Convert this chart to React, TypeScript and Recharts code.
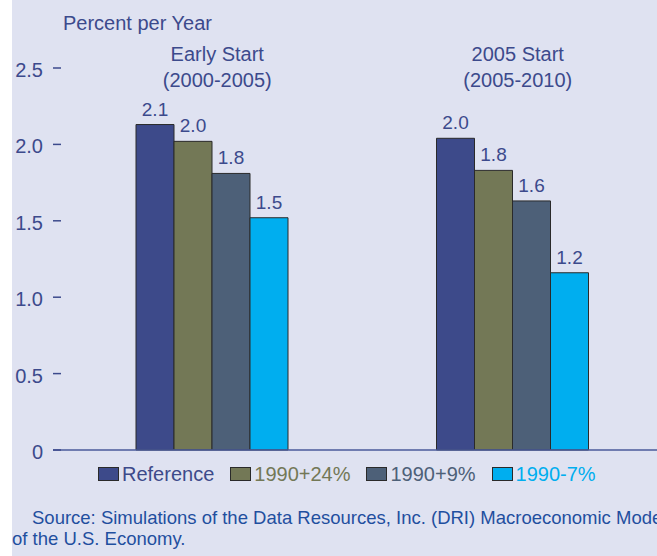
import React from 'react';
import { BarChart, Bar, XAxis, YAxis, Legend, LabelList } from 'recharts';

const groupTitles = ['Early Start', '2005 Start'];
const groupPeriods = ['(2000-2005)', '(2005-2010)'];
const reference = [2.13, 2.04];
const plus24 = [2.02, 1.83];
const plus9 = [1.81, 1.63];
const minus7 = [1.52, 1.16];
const yTicks = [0, 0.5, 1.0, 1.5, 2.0, 2.5];

const seriesList = [
  { key: 'reference', name: 'Reference', fill: '#3d4a8a', text: '#3d4a8a' },
  { key: 'plus24', name: '1990+24%', fill: '#737856', text: '#737856' },
  { key: 'plus9', name: '1990+9%', fill: '#4d6078', text: '#4d6078' },
  { key: 'minus7', name: '1990-7%', fill: '#00aeef', text: '#00aeef' },
];

const data = groupTitles.map((title, i) => ({
  group: title,
  period: groupPeriods[i],
  reference: reference[i],
  plus24: plus24[i],
  plus9: plus9[i],
  minus7: minus7[i],
}));

const FONT = '"Liberation Sans", Arial, sans-serif';
const INK = '#3c4a8c';

const YTick = (props: any) => {
  const { x, y, payload } = props;
  const v = payload.value as number;
  return (
    <g>
      <line x1={x} x2={x + 8} y1={y} y2={y} stroke={INK} strokeWidth={1.5} />
      <text x={x - 10} y={y} dy={9} textAnchor="end" fill={INK} fontSize={20} fontFamily={FONT}>
        {v === 0 ? '0' : v.toFixed(1)}
      </text>
    </g>
  );
};

const GroupTick = (props: any) => {
  const { x, y, index } = props;
  return (
    <g>
      <text x={x + 5} y={y - 7.5} textAnchor="middle" fill={INK} fontSize={20} fontFamily={FONT}>
        {groupTitles[index]}
      </text>
      <text x={x + 5} y={y + 19} textAnchor="middle" fill={INK} fontSize={20} fontFamily={FONT}>
        {groupPeriods[index]}
      </text>
    </g>
  );
};

const LegendContent = () => (
  <div style={{ display: 'flex', alignItems: 'center', height: 26, fontFamily: FONT, fontSize: 20, lineHeight: '20px' }}>
    {seriesList.map((s) => (
      <div key={s.key} style={{ display: 'flex', alignItems: 'center', marginRight: 16, whiteSpace: 'nowrap' }}>
        <span style={{ display: 'inline-block', width: 19, height: 12, background: s.fill, border: '1px solid #2a2a2a', marginRight: 3 }} />
        <span style={{ color: s.text }}>{s.name}</span>
      </div>
    ))}
  </div>
);

export default function App() {
  return (
    <div style={{ position: 'absolute', left: 0, top: 0, width: 657, height: 556, overflow: 'hidden', background: '#ffffff' }}>
      <div style={{ position: 'absolute', left: 12, top: 0, width: 645, height: 556, background: '#dfe2f1' }} />
      <div style={{ position: 'absolute', left: 0, top: 0 }}>
        <BarChart
          width={663}
          height={556}
          data={data}
          margin={{ top: 0, right: 0, bottom: 69, left: 0 }}
          barCategoryGap={74}
          barGap={0}
        >
          <XAxis
            xAxisId="top"
            orientation="top"
            dataKey="group"
            height={68}
            axisLine={false}
            tickLine={false}
            tickSize={0}
            tickMargin={0}
            interval={0}
            padding={{ left: 9, right: 0 }}
            tick={<GroupTick />}
          />
          <XAxis
            dataKey="group"
            height={11}
            tick={false}
            tickLine={false}
            axisLine={{ stroke: '#4a5a9a', strokeWidth: 1.5 }}
            padding={{ left: 9, right: 0 }}
          />
          <YAxis
            width={53}
            domain={[0, 2.5]}
            ticks={yTicks}
            axisLine={false}
            tickLine={false}
            tickSize={0}
            tickMargin={0}
            interval={0}
            tick={<YTick />}
          />
          <Legend
            verticalAlign="bottom"
            content={<LegendContent />}
            wrapperStyle={{ left: 98, width: 540 }}
          />
          {seriesList.map((s) => (
            <Bar
              key={s.key}
              dataKey={s.key}
              name={s.name}
              fill={s.fill}
              stroke="#2a2a2a"
              strokeWidth={1}
              isAnimationActive={false}
            >
              <LabelList
                dataKey={s.key}
                position="top"
                offset={9}
                fill={INK}
                fontSize={19}
                fontFamily={FONT}
                formatter={(v: any) => Number(v).toFixed(1)}
              />
            </Bar>
          ))}
        </BarChart>
      </div>
      <div style={{ position: 'absolute', left: 63, top: 13, fontFamily: FONT, fontSize: 20, lineHeight: '20px', color: INK, whiteSpace: 'nowrap' }}>
        Percent per Year
      </div>
      <div style={{ position: 'absolute', left: 12, top: 507, fontFamily: FONT, fontSize: 18.5, lineHeight: '21px', color: '#1f4f9f', whiteSpace: 'nowrap' }}>
        <div style={{ paddingLeft: 20 }}>Source: Simulations of the Data Resources, Inc. (DRI) Macroeconomic Model</div>
        <div>of the U.S. Economy.</div>
      </div>
    </div>
  );
}
